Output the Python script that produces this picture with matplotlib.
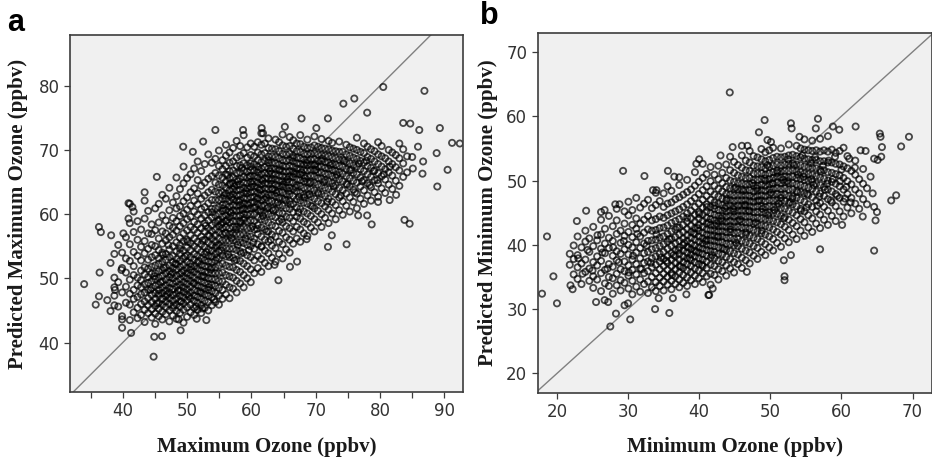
import matplotlib
matplotlib.use("Agg")
import matplotlib.pyplot as plt
from matplotlib.ticker import MultipleLocator

# ---- panel a : observed vs predicted maximum ozone (ppbv) ----
# dense part of the cloud, read strip by strip: (observed, [predicted, ...])
cloud_a = [
    (38.1, [44.9, 52.4]),
    (38.7, [47.3, 50.1, 53.8]),
    (39.3, [45.6, 49.4, 55.2]),
    (39.9, [44.1, 47.8, 51.6, 54.0]),
    (40.5, [46.2, 48.7, 50.9, 53.1, 56.4]),
    (41.1, [43.5, 45.9, 47.6, 49.8, 52.7, 55.3, 58.6]),
    (41.7, [44.7, 46.8, 48.2, 50.5, 51.9, 54.1, 57.2, 60.4]),
    (42.3, [43.8, 45.4, 47.1, 48.9, 50.1, 53.5, 56.0, 58.9]),
    (42.85, [44.3, 46.0, 47.5, 48.6, 49.7, 51.2, 52.8, 54.9, 57.6]),
    (43.4, [43.2, 45.1, 46.4, 47.8, 49.1, 50.6, 51.7, 53.9, 55.8, 59.3, 62.1]),
    (43.95, [44.6, 45.8, 46.9, 48.2, 49.3, 50.2, 51.5, 52.9, 54.6, 57.0, 60.5]),
    (44.5, [43.9, 45.2, 46.3, 47.4, 48.5, 49.6, 50.7, 51.8, 53.3, 55.2, 56.9, 58.4]),
    (45.05, [42.9, 44.5, 45.7, 46.8, 47.7, 48.8, 49.9, 50.8, 52.0, 53.6, 55.0, 57.5, 60.9]),
    (45.6, [44.1, 45.3, 46.2, 47.3, 48.2, 49.0, 50.1, 51.1, 52.3, 53.1, 54.4, 56.2, 58.7, 61.6]),
    (46.15, [43.6, 44.8, 45.9, 46.8, 47.7, 48.6, 49.5, 50.4, 51.3, 52.6, 54.0, 55.4, 57.3, 59.8, 63.0]),
    (46.7, [44.4, 45.5, 46.4, 47.2, 48.1, 48.9, 49.8, 50.8, 51.7, 52.9, 53.8, 55.9, 57.0, 59.0, 62.4]),
    (47.25, [43.3, 45.0, 46.0, 46.9, 47.8, 48.5, 49.3, 50.2, 51.1, 52.0, 53.3, 54.5, 56.4, 58.2, 60.6, 64.1]),
    (47.8, [44.2, 45.4, 46.5, 47.4, 48.3, 49.2, 50.0, 50.9, 51.6, 52.5, 53.5, 55.0, 56.8, 57.9, 59.4, 61.8]),
    (48.35, [43.7, 44.9, 45.9, 46.9, 47.6, 48.7, 49.5, 50.4, 51.4, 52.2, 53.0, 54.2, 55.6, 57.4, 58.9, 60.9, 62.8, 65.7]),
    (48.9, [44.6, 45.6, 46.4, 47.3, 48.1, 49.0, 49.9, 50.7, 51.8, 52.7, 53.9, 55.2, 56.3, 58.1, 59.7, 61.2, 63.9]),
    (49.45, [43.1, 45.1, 46.1, 47.0, 47.9, 48.6, 49.4, 50.3, 51.2, 52.1, 53.1, 54.3, 55.8, 57.0, 58.6, 60.1, 62.0, 64.8, 67.4]),
    (50.0, [44.0, 45.5, 46.6, 47.5, 48.3, 49.1, 50.0, 50.8, 51.6, 52.6, 53.6, 54.8, 56.0, 57.5, 59.2, 60.7, 62.6, 65.6]),
    (50.55, [44.7, 45.9, 46.9, 47.8, 48.7, 49.6, 50.5, 51.3, 52.3, 53.3, 54.4, 55.5, 56.7, 58.0, 59.6, 61.3, 63.4, 66.2]),
    (51.1, [44.3, 45.4, 46.5, 47.3, 48.2, 49.2, 50.1, 51.0, 51.9, 52.9, 53.8, 55.0, 56.2, 57.6, 58.8, 60.4, 62.1, 64.0, 67.1]),
    (51.65, [45.1, 46.2, 47.1, 48.0, 48.9, 49.7, 50.6, 51.5, 52.5, 53.5, 54.6, 55.7, 57.1, 58.4, 59.9, 61.5, 63.2, 65.3, 68.2]),
    (52.2, [44.6, 45.8, 46.8, 47.7, 48.6, 49.5, 50.3, 51.2, 52.1, 53.1, 54.1, 55.3, 56.5, 57.8, 59.3, 60.8, 62.4, 64.4, 66.7]),
    (52.75, [45.4, 46.5, 47.5, 48.4, 49.3, 50.2, 51.0, 51.9, 52.8, 53.8, 54.9, 56.0, 57.3, 58.6, 59.8, 61.1, 62.9, 64.9, 67.8]),
    (53.3, [45.0, 46.3, 47.3, 48.2, 49.1, 50.0, 50.9, 51.8, 52.6, 53.5, 54.5, 55.6, 56.7, 57.8, 59.0, 60.3, 61.7, 63.4, 65.5, 69.3]),
    (53.85, [45.8, 47.0, 48.0, 49.0, 49.9, 50.8, 51.7, 52.5, 53.4, 54.3, 55.2, 56.2, 57.3, 58.3, 59.5, 60.8, 62.2, 63.8, 65.9, 68.0]),
    (54.4, [46.3, 47.7, 48.8, 49.8, 50.8, 51.7, 52.8, 53.8, 54.8, 55.7, 56.7, 57.6, 58.7, 59.8, 60.9, 62.2, 63.5, 64.9, 66.4, 68.6]),
    (54.95, [45.9, 47.3, 48.5, 49.6, 50.8, 52.0, 53.1, 54.2, 55.2, 56.2, 57.2, 58.1, 59.1, 60.0, 61.1, 62.2, 63.3, 64.6, 66.0, 67.5, 69.9]),
    (55.5, [46.8, 48.2, 49.5, 50.9, 52.3, 53.6, 54.8, 55.9, 56.9, 57.8, 58.7, 59.6, 60.5, 61.4, 62.4, 63.4, 64.5, 65.7, 67.0, 68.4]),
    (56.05, [47.5, 49.0, 50.5, 52.0, 53.4, 54.7, 55.9, 57.0, 58.0, 58.9, 59.8, 60.6, 61.5, 62.4, 63.2, 64.1, 65.1, 66.2, 67.5, 69.1, 70.8]),
    (56.6, [46.9, 48.6, 50.3, 51.8, 53.3, 54.6, 55.8, 56.9, 57.8, 58.7, 59.5, 60.4, 61.2, 62.0, 62.9, 63.7, 64.6, 65.6, 66.7, 68.0, 69.6]),
    (57.15, [48.4, 50.1, 51.7, 53.2, 54.6, 55.9, 57.0, 58.0, 58.9, 59.8, 60.6, 61.4, 62.3, 63.1, 63.9, 64.8, 65.7, 66.8, 68.2, 70.3]),
    (57.7, [47.8, 49.6, 51.3, 52.9, 54.4, 55.7, 56.9, 58.0, 58.9, 59.7, 60.5, 61.3, 62.1, 62.9, 63.7, 64.5, 65.4, 66.4, 67.5, 68.8, 71.4]),
    (58.25, [49.2, 51.0, 52.7, 54.2, 55.6, 56.8, 57.9, 58.9, 59.8, 60.6, 61.4, 62.2, 63.0, 63.8, 64.6, 65.5, 66.5, 67.6, 69.1, 70.6]),
    (58.8, [48.6, 50.5, 52.3, 54.0, 55.5, 56.8, 58.0, 59.1, 60.0, 60.9, 61.7, 62.5, 63.3, 64.1, 64.9, 65.8, 66.8, 67.9, 69.5, 72.3]),
    (59.35, [50.0, 51.9, 53.6, 55.2, 56.6, 57.8, 58.9, 59.9, 60.8, 61.6, 62.4, 63.2, 64.0, 64.8, 65.7, 66.6, 67.6, 68.8, 70.4]),
    (59.9, [49.4, 51.4, 53.3, 55.0, 56.5, 57.8, 59.0, 60.0, 60.9, 61.8, 62.6, 63.4, 64.2, 65.0, 65.9, 66.8, 67.9, 69.2, 71.0]),
    (60.45, [50.8, 52.8, 54.6, 56.2, 57.6, 58.9, 60.0, 61.0, 61.9, 62.7, 63.5, 64.3, 65.1, 65.9, 66.8, 67.8, 69.0, 70.5]),
    (61.0, [51.6, 53.5, 55.3, 56.9, 58.3, 59.5, 60.6, 61.6, 62.5, 63.3, 64.1, 64.9, 65.7, 66.5, 67.4, 68.4, 69.6, 71.2]),
    (61.55, [51.0, 53.0, 54.9, 56.5, 57.9, 59.2, 60.3, 61.3, 62.2, 63.0, 63.8, 64.6, 65.4, 66.2, 67.1, 68.1, 69.3, 70.8, 72.6]),
    (62.1, [52.4, 54.3, 56.0, 57.6, 59.0, 60.2, 61.3, 62.3, 63.2, 64.0, 64.8, 65.6, 66.4, 67.3, 68.3, 69.5, 71.0]),
    (62.65, [51.9, 53.9, 55.7, 57.3, 58.7, 60.0, 61.1, 62.1, 63.0, 63.9, 64.7, 65.5, 66.3, 67.1, 68.0, 69.0, 70.3, 71.8]),
    (63.2, [53.2, 55.1, 56.8, 58.3, 59.7, 60.9, 62.0, 63.0, 63.9, 64.7, 65.5, 66.3, 67.1, 68.0, 69.0, 70.2]),
    (63.75, [52.6, 54.7, 56.5, 58.1, 59.5, 60.7, 61.8, 62.8, 63.7, 64.6, 65.4, 66.2, 67.0, 67.9, 68.9, 70.1, 71.6]),
    (64.3, [53.8, 55.7, 57.4, 58.9, 60.2, 61.4, 62.5, 63.5, 64.4, 65.2, 66.0, 66.8, 67.7, 68.7, 69.8, 71.2]),
    (64.85, [53.1, 55.3, 57.1, 58.7, 60.1, 61.3, 62.4, 63.4, 64.3, 65.1, 65.9, 66.7, 67.5, 68.4, 69.4, 70.7, 72.4]),
    (65.4, [54.5, 56.4, 58.1, 59.6, 60.9, 62.1, 63.1, 64.1, 65.0, 65.8, 66.6, 67.4, 68.3, 69.3, 70.5]),
    (65.95, [54.0, 56.0, 57.8, 59.4, 60.8, 62.0, 63.1, 64.1, 65.0, 65.9, 66.7, 67.5, 68.4, 69.4, 70.6, 72.0]),
    (66.5, [55.4, 57.3, 58.9, 60.3, 61.6, 62.8, 63.9, 64.9, 65.8, 66.6, 67.4, 68.2, 69.1, 70.2, 71.5]),
    (67.05, [56.2, 58.0, 59.6, 61.0, 62.3, 63.5, 64.5, 65.4, 66.3, 67.1, 67.9, 68.8, 69.8, 71.0]),
    (67.6, [55.7, 57.6, 59.3, 60.8, 62.1, 63.3, 64.4, 65.3, 66.2, 67.0, 67.8, 68.7, 69.7, 70.9, 72.3]),
    (68.15, [57.0, 58.8, 60.4, 61.8, 63.0, 64.1, 65.1, 66.0, 66.9, 67.7, 68.5, 69.4, 70.5]),
    (68.7, [56.6, 58.5, 60.1, 61.6, 62.9, 64.0, 65.0, 65.9, 66.8, 67.6, 68.4, 69.3, 70.3, 71.6]),
    (69.25, [57.9, 59.7, 61.3, 62.7, 63.9, 65.0, 66.0, 66.9, 67.7, 68.5, 69.4, 70.4]),
    (69.8, [57.3, 59.2, 60.9, 62.4, 63.7, 64.9, 65.9, 66.8, 67.6, 68.5, 69.5, 70.7, 72.1]),
    (70.35, [58.7, 60.5, 62.0, 63.4, 64.6, 65.6, 66.5, 67.4, 68.3, 69.3, 70.5]),
    (70.9, [58.0, 60.0, 61.7, 63.1, 64.4, 65.5, 66.5, 67.4, 68.3, 69.2, 70.3, 71.7]),
    (71.45, [59.4, 61.2, 62.8, 64.1, 65.3, 66.3, 67.2, 68.1, 69.1, 70.2]),
    (72.0, [58.6, 60.7, 62.4, 63.9, 65.1, 66.2, 67.1, 68.0, 69.0, 70.1, 71.4]),
    (72.55, [60.1, 61.9, 63.5, 64.8, 65.9, 66.9, 67.8, 68.8, 69.9, 71.1]),
    (73.1, [59.2, 61.4, 63.1, 64.5, 65.7, 66.7, 67.7, 68.7, 69.8]),
    (73.65, [60.6, 62.6, 64.1, 65.4, 66.5, 67.5, 68.5, 69.7, 71.3]),
    (74.2, [59.9, 62.0, 63.7, 65.1, 66.3, 67.4, 68.5, 69.7]),
    (74.75, [61.3, 63.2, 64.7, 65.9, 67.0, 68.1, 69.3, 70.8]),
    (75.3, [60.4, 62.6, 64.3, 65.6, 66.8, 67.9, 69.1, 70.4]),
    (75.85, [61.9, 63.8, 65.2, 66.4, 67.6, 68.8, 70.2]),
    (76.4, [60.9, 63.2, 64.9, 66.2, 67.4, 68.6, 70.0, 71.9]),
    (76.95, [62.4, 64.3, 65.7, 67.0, 68.3, 69.7]),
    (77.5, [61.6, 63.7, 65.3, 66.7, 68.0, 69.5, 71.0]),
    (78.05, [62.9, 64.8, 66.2, 67.5, 68.9, 70.5]),
    (78.6, [62.1, 64.2, 65.8, 67.2, 68.6, 70.1]),
    (79.15, [63.4, 65.3, 66.8, 68.2, 69.8]),
    (79.7, [62.7, 64.8, 66.4, 67.8, 69.3, 71.2]),
    (80.25, [64.0, 65.9, 67.4, 69.0, 70.6]),
    (80.8, [63.3, 65.4, 67.0, 68.7]),
    (81.35, [64.6, 66.5, 68.2, 70.0]),
    (81.9, [63.9, 66.0, 67.8, 69.6]),
    (82.45, [65.2, 67.3, 69.2]),
    (83.0, [64.4, 66.8, 68.7, 71.0]),
    (83.6, [65.8, 67.9, 70.1]),
    (84.2, [66.5, 69.0]),
]
# scattered points around the cloud (observed, predicted)
loose_a = [
    (34.0, 49.1), (35.8, 45.9), (36.3, 47.2), (36.4, 50.9), (36.3, 58.0), (36.6, 57.2),
    (37.6, 46.6), (38.2, 56.7), (38.7, 48.6), (38.8, 48.2), (38.7, 45.8), (39.8, 51.3),
    (40.1, 57.0), (39.9, 43.6), (39.9, 42.3), (40.9, 61.7), (41.1, 61.6), (40.9, 59.3),
    (41.5, 61.1), (41.3, 41.5), (43.4, 63.4), (45.3, 65.8), (44.8, 37.8), (44.9, 40.9),
    (46.1, 41.0), (49.0, 41.9), (48.7, 43.6), (49.4, 70.5), (50.9, 69.7), (52.5, 71.3),
    (54.4, 73.1), (58.7, 73.1), (61.6, 73.4), (61.8, 72.6), (65.2, 73.6), (67.8, 74.9),
    (70.1, 73.4), (71.9, 74.9), (74.3, 77.2), (76.0, 78.0), (78.0, 75.8), (80.5, 79.8),
    (86.9, 79.2), (89.3, 73.4), (91.2, 71.1), (92.4, 71.0), (88.8, 69.5), (88.9, 64.3),
    (90.5, 66.9), (86.6, 66.3), (86.7, 68.2), (85.9, 70.5), (83.6, 74.2), (84.7, 74.1),
    (86.1, 73.1), (85.0, 68.9), (85.1, 67.1), (83.8, 59.1), (84.6, 58.5), (82.5, 63.0),
    (81.5, 62.2), (79.7, 61.9), (78.7, 58.4), (78.0, 59.8), (76.6, 59.8), (74.8, 55.3),
    (71.9, 54.9), (72.5, 56.7), (68.6, 56.1), (66.0, 51.8), (67.1, 52.6), (64.2, 49.7),
    (63.6, 52.1), (51.5, 43.7), (53.0, 43.5), (52.4, 45.3),
]
# extra points inside the dark parts of the cloud
fill_a = [
    (45.3, 46.1), (45.9, 49.4), (46.4, 51.6), (46.9, 47.5), (47.5, 50.6), (47.9, 45.8),
    (48.2, 52.3), (48.6, 48.1), (49.1, 46.4), (49.2, 50.9), (49.7, 53.4), (50.3, 47.2),
    (50.6, 51.8), (51.0, 49.3), (51.4, 45.6), (51.8, 52.7), (52.1, 47.9), (52.5, 50.4),
    (53.0, 54.1), (53.4, 48.6), (53.7, 51.4), (54.2, 46.7), (54.6, 53.2), (46.2, 53.7),
    (47.1, 55.2), (45.6, 47.6), (48.9, 54.6), (50.1, 55.7), (44.9, 50.3), (44.3, 48.2),
    (55.3, 58.4), (55.8, 62.9), (56.3, 66.1), (56.8, 60.2), (57.3, 64.3), (57.6, 57.6),
    (58.1, 61.9), (58.5, 67.2), (58.9, 59.4), (59.2, 63.6), (59.7, 65.9), (60.2, 58.1),
    (60.6, 61.1), (61.1, 66.9), (61.3, 63.8), (61.8, 59.7), (62.3, 62.6), (62.7, 68.4),
    (63.1, 65.2), (63.4, 60.6), (63.9, 63.3), (64.4, 67.0), (64.7, 59.2), (65.2, 62.3),
    (65.6, 65.4), (66.1, 61.5), (66.4, 68.8), (66.9, 64.2), (67.3, 60.3), (67.8, 66.5),
    (68.2, 62.6), (68.6, 68.0), (69.1, 64.8), (69.5, 61.2), (70.0, 66.9), (70.4, 63.2),
    (71.0, 68.6), (71.3, 65.0), (71.8, 61.9), (72.3, 67.6), (72.8, 64.3), (73.3, 66.1),
    (73.9, 62.9), (74.4, 68.3), (74.9, 64.6), (75.5, 66.9), (76.1, 63.4), (76.7, 67.9),
    (77.2, 65.1), (77.9, 68.3), (78.4, 64.5), (79.0, 66.7), (79.6, 65.3), (80.6, 66.2),
    (81.5, 67.4), (52.4, 55.9), (52.9, 58.2), (53.5, 56.6), (53.9, 60.3), (54.6, 55.1),
    (54.8, 58.9), (55.4, 54.3), (55.9, 57.1), (56.4, 53.7), (56.9, 56.3), (57.4, 52.8),
    (57.9, 55.2), (58.4, 53.9), (59.1, 56.2), (59.6, 54.4), (60.3, 55.6), (60.9, 57.7),
    (61.6, 55.0), (62.4, 57.3), (63.0, 56.0),
    (56.2, 59.1), (57.0, 62.6), (57.9, 65.1), (58.6, 60.7), (59.5, 61.4), (60.1, 64.7),
    (60.9, 62.3), (61.7, 65.2), (62.5, 60.9), (63.3, 63.9), (64.1, 61.8), (64.9, 64.6),
    (65.8, 63.6), (66.6, 66.3), (67.4, 62.7), (68.3, 65.6), (69.0, 63.1), (69.9, 67.8),
    (55.6, 60.9), (56.7, 64.8), (58.3, 58.6), (59.9, 67.4), (61.4, 60.6), (62.9, 66.7),
]

# ---- panel b : observed vs predicted minimum ozone (ppbv) ----
cloud_b = [
    (21.8, [36.9, 38.6]),
    (22.35, [35.4, 37.8, 39.9]),
    (22.9, [34.7, 36.5, 38.4, 41.3]),
    (23.45, [33.9, 37.1, 39.6]),
    (24.0, [35.8, 37.7, 40.5, 42.2]),
    (24.55, [34.4, 36.3, 38.9, 41.0]),
    (25.1, [33.3, 35.1, 37.3, 39.8, 42.8]),
    (25.65, [34.6, 36.8, 38.2, 40.7]),
    (26.2, [32.8, 35.6, 37.5, 39.4, 41.6, 43.9]),
    (26.75, [34.0, 36.1, 38.7, 40.2, 42.5]),
    (27.3, [33.6, 35.0, 37.0, 39.5, 41.1, 44.5]),
    (27.85, [32.4, 34.8, 36.6, 38.3, 40.6, 42.9]),
    (28.4, [33.7, 35.5, 37.6, 39.0, 41.7, 43.8, 45.6]),
    (28.95, [32.9, 34.5, 36.2, 38.6, 40.3, 42.2]),
    (29.5, [34.1, 35.9, 37.4, 39.3, 41.4, 43.3, 45.2]),
    (30.05, [33.2, 35.2, 36.8, 38.5, 40.0, 42.0, 44.6, 46.7]),
    (30.6, [32.3, 34.4, 36.1, 37.7, 39.6, 41.2, 43.1, 45.4]),
    (31.15, [33.5, 35.4, 37.0, 38.8, 40.4, 42.5, 44.1, 47.3]),
    (31.7, [32.7, 34.6, 36.3, 37.9, 39.5, 41.3, 43.3, 45.8]),
    (32.25, [33.9, 35.6, 37.2, 38.7, 40.2, 41.9, 43.9, 46.4]),
    (32.8, [32.5, 34.3, 35.9, 37.4, 38.9, 40.6, 42.4, 44.5, 47.0]),
    (33.35, [33.4, 35.0, 36.5, 37.9, 39.3, 40.7, 42.2, 43.8, 45.7]),
    (33.9, [32.8, 34.2, 35.6, 36.9, 38.2, 39.5, 40.8, 42.3, 44.0, 46.2, 48.1]),
    (34.45, [33.6, 34.9, 36.2, 37.4, 38.6, 39.8, 41.1, 42.6, 44.4, 46.8]),
    (35.0, [32.9, 34.3, 35.5, 36.7, 37.8, 38.9, 40.1, 41.3, 42.7, 44.2, 45.9, 48.0]),
    (35.55, [33.8, 35.0, 36.1, 37.2, 38.3, 39.4, 40.5, 41.7, 43.0, 44.6, 46.4, 49.1]),
    (36.1, [33.1, 34.4, 35.6, 36.7, 37.7, 38.7, 39.8, 40.9, 42.1, 43.4, 44.9, 46.6, 48.4]),
    (36.65, [33.9, 35.1, 36.2, 37.2, 38.2, 39.2, 40.2, 41.2, 42.4, 43.7, 45.2, 47.1]),
    (37.2, [33.4, 34.6, 35.7, 36.7, 37.7, 38.6, 39.6, 40.6, 41.6, 42.7, 44.0, 45.5, 47.4, 49.3]),
    (37.75, [34.1, 35.3, 36.4, 37.3, 38.2, 39.1, 40.0, 41.0, 42.0, 43.1, 44.4, 45.9, 47.8]),
    (38.3, [33.6, 34.9, 36.0, 37.0, 37.9, 38.8, 39.7, 40.6, 41.5, 42.5, 43.6, 44.9, 46.3, 48.2, 50.1]),
    (38.85, [34.5, 35.7, 36.7, 37.6, 38.5, 39.3, 40.2, 41.1, 42.0, 43.0, 44.1, 45.3, 46.8, 48.6]),
    (39.4, [33.9, 35.2, 36.3, 37.3, 38.2, 39.1, 39.9, 40.8, 41.7, 42.6, 43.6, 44.7, 45.9, 47.3, 49.2, 51.3]),
    (39.95, [34.8, 36.0, 37.0, 37.9, 38.8, 39.6, 40.5, 41.3, 42.2, 43.1, 44.1, 45.1, 46.4, 47.9, 49.8]),
    (40.5, [34.2, 35.6, 36.7, 37.7, 38.6, 39.4, 40.2, 41.0, 41.9, 42.8, 43.7, 44.7, 45.8, 47.0, 48.5, 50.4, 52.6]),
    (41.05, [35.1, 36.4, 37.4, 38.3, 39.2, 40.0, 40.8, 41.6, 42.4, 43.3, 44.2, 45.2, 46.3, 47.6, 49.1, 51.0]),
    (41.6, [33.8, 35.5, 36.9, 38.0, 39.0, 39.9, 40.7, 41.5, 42.3, 43.1, 44.0, 44.9, 45.9, 47.0, 48.3, 49.9, 52.1]),
    (42.15, [35.3, 36.7, 37.9, 38.9, 39.8, 40.6, 41.4, 42.2, 43.0, 43.8, 44.7, 45.6, 46.6, 47.8, 49.2, 50.9]),
    (42.7, [34.6, 36.2, 37.5, 38.6, 39.6, 40.5, 41.3, 42.1, 42.9, 43.7, 44.5, 45.4, 46.4, 47.5, 48.7, 50.2, 52.3]),
    (43.25, [35.9, 37.3, 38.5, 39.5, 40.4, 41.3, 42.1, 42.9, 43.7, 44.5, 45.3, 46.2, 47.2, 48.3, 49.6, 51.2]),
    (43.8, [35.2, 36.8, 38.1, 39.2, 40.2, 41.1, 42.0, 42.8, 43.6, 44.4, 45.2, 46.0, 46.9, 47.9, 49.0, 50.4, 52.5]),
    (44.35, [36.3, 37.8, 39.0, 40.1, 41.1, 42.0, 42.9, 43.7, 44.5, 45.3, 46.1, 46.9, 47.8, 48.8, 50.0, 51.6, 53.7]),
    (44.9, [35.7, 37.3, 38.7, 39.9, 40.9, 41.9, 42.8, 43.6, 44.4, 45.2, 46.0, 46.8, 47.7, 48.7, 49.8, 51.2, 52.9]),
    (45.45, [37.0, 38.5, 39.8, 40.9, 41.9, 42.8, 43.7, 44.5, 45.3, 46.1, 46.9, 47.7, 48.6, 49.6, 50.8, 52.4]),
    (46.0, [36.4, 38.0, 39.4, 40.6, 41.7, 42.7, 43.6, 44.5, 45.3, 46.1, 46.9, 47.7, 48.6, 49.5, 50.6, 52.0, 53.9]),
    (46.55, [37.6, 39.1, 40.4, 41.6, 42.6, 43.5, 44.4, 45.3, 46.1, 46.9, 47.7, 48.5, 49.4, 50.4, 51.6, 53.1]),
    (47.1, [37.1, 38.8, 40.2, 41.4, 42.5, 43.5, 44.4, 45.2, 46.0, 46.8, 47.6, 48.5, 49.4, 50.4, 51.5, 52.8, 54.6]),
    (47.65, [38.3, 39.8, 41.1, 42.3, 43.3, 44.2, 45.1, 45.9, 46.7, 47.5, 48.3, 49.2, 50.1, 51.1, 52.3, 53.8]),
    (48.2, [37.8, 39.5, 40.9, 42.1, 43.2, 44.2, 45.1, 46.0, 46.8, 47.6, 48.4, 49.2, 50.1, 51.1, 52.2, 53.6]),
    (48.75, [38.9, 40.5, 41.8, 43.0, 44.1, 45.1, 46.0, 46.9, 47.7, 48.5, 49.3, 50.2, 51.1, 52.1, 53.3, 54.9]),
    (49.3, [38.4, 40.1, 41.6, 42.9, 44.0, 45.0, 45.9, 46.8, 47.6, 48.4, 49.2, 50.0, 50.9, 51.9, 53.0, 54.4]),
    (49.85, [39.6, 41.3, 42.7, 43.9, 45.0, 46.0, 46.9, 47.8, 48.6, 49.4, 50.2, 51.1, 52.1, 53.2, 54.7]),
    (50.4, [39.1, 40.9, 42.4, 43.7, 44.9, 45.9, 46.9, 47.8, 48.7, 49.5, 50.4, 51.3, 52.3, 53.5, 55.1]),
    (50.95, [40.3, 42.0, 43.5, 44.8, 45.9, 46.9, 47.9, 48.8, 49.7, 50.6, 51.5, 52.5, 53.7]),
    (51.5, [39.7, 41.6, 43.2, 44.5, 45.7, 46.8, 47.8, 48.7, 49.6, 50.5, 51.4, 52.4, 53.6, 55.0]),
    (52.05, [41.0, 42.8, 44.3, 45.6, 46.8, 47.8, 48.8, 49.7, 50.6, 51.5, 52.5, 53.7]),
    (52.6, [40.4, 42.3, 43.9, 45.3, 46.5, 47.6, 48.6, 49.6, 50.5, 51.5, 52.6, 53.9, 55.6]),
    (53.15, [41.6, 43.4, 45.0, 46.3, 47.5, 48.6, 49.6, 50.6, 51.6, 52.7, 54.0]),
    (53.7, [40.9, 42.9, 44.6, 46.0, 47.3, 48.4, 49.4, 50.4, 51.4, 52.5, 53.8, 55.4]),
    (54.25, [42.2, 44.0, 45.6, 47.0, 48.2, 49.3, 50.3, 51.3, 52.4, 53.6, 55.0]),
    (54.8, [41.4, 43.5, 45.2, 46.7, 48.0, 49.1, 50.1, 51.1, 52.2, 53.4, 54.8, 56.4]),
    (55.35, [42.7, 44.6, 46.3, 47.7, 48.9, 50.0, 51.0, 52.1, 53.3, 54.7]),
    (55.9, [42.0, 44.1, 45.9, 47.4, 48.7, 49.8, 50.9, 52.0, 53.2, 54.6, 56.2]),
    (56.45, [43.3, 45.2, 46.9, 48.3, 49.5, 50.7, 51.9, 53.2, 54.7]),
    (57.0, [42.6, 44.7, 46.5, 48.0, 49.3, 50.5, 51.7, 53.0, 54.5, 56.5]),
    (57.55, [43.9, 45.9, 47.6, 49.0, 50.3, 51.6, 53.0, 54.7]),
    (58.1, [43.1, 45.3, 47.1, 48.6, 50.0, 51.3, 52.8, 54.5, 56.9]),
    (58.65, [44.5, 46.6, 48.3, 49.8, 51.2, 52.8, 54.8]),
    (59.2, [43.7, 46.0, 47.9, 49.5, 51.0, 52.6, 54.3]),
    (59.75, [45.2, 47.3, 49.1, 50.8, 52.5, 54.6]),
    (60.3, [44.4, 46.7, 48.6, 50.4, 52.2, 55.1]),
    (60.85, [45.8, 47.9, 49.9, 51.9, 53.8]),
    (61.4, [44.9, 47.3, 49.4, 51.5]),
    (61.95, [46.4, 48.6, 50.9, 53.1]),
    (62.5, [45.6, 48.0, 50.2]),
    (63.05, [47.1, 49.5, 51.8]),
    (63.6, [46.3, 48.8]),
]
loose_b = [
    (17.9, 32.4), (18.6, 41.3), (19.5, 35.1), (20.0, 30.9), (21.9, 33.7), (22.2, 33.1),
    (22.8, 43.7), (24.1, 45.3), (25.5, 31.1), (26.2, 45.1), (26.7, 45.4), (26.7, 31.4),
    (27.2, 31.1), (27.5, 27.3), (28.3, 29.3), (28.2, 46.3), (28.8, 46.3), (29.3, 51.5),
    (29.5, 30.6), (30.0, 30.9), (30.3, 28.4), (32.3, 50.7), (33.5, 48.5), (34.0, 48.5),
    (33.8, 30.0), (34.3, 31.7), (35.6, 51.5), (35.8, 29.4), (36.3, 31.7), (36.5, 50.6),
    (37.2, 50.5), (38.2, 32.3), (39.6, 52.6), (40.0, 53.3), (41.3, 32.2), (43.0, 53.9),
    (44.3, 63.7), (44.7, 55.2), (46.0, 55.4), (46.8, 55.4), (48.4, 57.5), (49.2, 59.4),
    (49.6, 56.3), (50.1, 56.0), (52.9, 58.9), (53.0, 58.1), (54.1, 56.8), (56.7, 59.6),
    (56.4, 58.1), (58.8, 58.4), (59.7, 57.9), (62.0, 58.4), (62.7, 54.7), (63.4, 54.6),
    (64.1, 50.6), (64.4, 48.0), (64.6, 45.9), (65.0, 45.1), (65.4, 57.3), (65.5, 56.8),
    (65.7, 55.2), (65.6, 53.7), (65.1, 53.2), (64.6, 53.4), (64.8, 43.8), (64.6, 39.1),
    (67.0, 46.9), (67.7, 47.7), (68.4, 55.3), (69.5, 56.8), (63.0, 44.4), (60.1, 43.1),
    (57.0, 39.3), (52.9, 38.4), (51.9, 37.6), (52.0, 35.1), (52.0, 34.5), (46.7, 35.8),
    (41.4, 32.2), (41.9, 33.2),
]
fill_b = [
    (35.4, 37.5), (35.8, 40.9), (36.4, 38.4), (36.9, 42.7), (37.4, 36.6), (37.9, 40.3),
    (38.3, 44.2), (38.7, 37.9), (39.2, 41.8), (39.6, 38.9), (40.0, 44.8), (40.4, 36.9),
    (40.9, 40.6), (41.3, 43.5), (41.8, 38.4), (42.2, 46.1), (42.6, 41.2), (43.1, 44.1),
    (43.5, 39.3), (43.9, 47.2), (44.4, 42.4), (44.8, 45.6), (45.2, 40.3), (45.7, 43.9),
    (46.2, 48.4), (46.6, 41.9), (47.0, 45.3), (47.5, 49.6), (47.9, 43.5), (48.4, 46.9),
    (48.8, 42.2), (49.2, 50.3), (49.7, 44.6), (50.1, 48.1), (50.6, 45.4), (51.0, 51.2),
    (51.5, 47.3), (51.9, 44.1), (52.4, 49.9), (52.8, 46.6), (53.3, 52.4), (53.8, 48.2),
    (54.3, 45.3), (54.7, 50.6), (55.2, 47.9), (55.7, 52.7), (56.1, 49.3), (56.6, 46.1),
    (57.1, 51.4), (57.7, 48.6), (58.2, 53.1), (58.8, 50.2), (59.4, 47.6), (60.0, 51.7),
    (60.7, 49.0), (61.3, 46.6), (61.9, 52.0), (34.6, 38.0), (34.0, 41.6), (33.2, 37.2),
    (32.6, 39.9), (31.9, 36.2), (31.3, 41.7), (30.7, 38.3), (30.1, 35.7), (29.4, 40.6),
    (28.7, 37.3), (27.9, 39.6), (27.1, 36.3), (26.4, 38.8), (25.7, 41.5), (25.0, 36.0),
    (24.3, 39.2), (23.6, 35.5), (23.0, 37.9),
    (48.1, 48.8), (48.9, 45.6), (49.6, 52.4), (50.3, 49.6), (51.2, 46.4), (51.8, 50.1),
    (52.5, 53.3), (53.1, 47.2), (53.9, 50.9), (54.5, 53.9), (55.1, 45.8), (55.8, 50.2),
    (56.3, 53.6), (56.9, 47.5), (57.4, 52.3), (58.0, 49.5), (58.5, 46.9), (59.1, 53.7),
    (59.8, 49.9), (60.5, 47.2), (61.1, 53.4), (46.4, 46.2), (45.1, 48.9), (43.6, 45.7),
    (42.4, 43.3), (41.1, 45.9), (39.8, 42.6), (38.5, 39.6), (37.1, 39.2), (36.2, 35.3),
]


def unpack(cloud, *extra):
    xs, ys = [], []
    for x, col in cloud:
        for y in col:
            xs.append(x)
            ys.append(y)
    for pts in extra:
        for x, y in pts:
            xs.append(x)
            ys.append(y)
    return xs, ys


xa, ya = unpack(cloud_a, loose_a, fill_a)
xb, yb = unpack(cloud_b, loose_b, fill_b)

fig = plt.figure(figsize=(9.32, 4.59), dpi=100)
ax1 = fig.add_axes([0.0751, 0.146, 0.4217, 0.7778])
ax2 = fig.add_axes([0.577, 0.1444, 0.4227, 0.7831])

serif = dict(family="Liberation Serif", weight="bold", size=15, color="#1a1a1a")
ring = (0, 0, 0, 0.7)


def style(ax, xl, yl, xlabel, ylabel):
    ax.set_facecolor("#f0f0f0")
    ax.set_xlim(*xl)
    ax.set_ylim(*yl)
    for s in ax.spines.values():
        s.set_color("#3c3c3c")
        s.set_linewidth(1.2)
    ax.plot(xl, xl, color="#808080", lw=1.0, zorder=1)
    ax.tick_params(which="both", direction="out", length=4.5, width=0.9,
                   color="#3c3c3c", labelsize=12, labelcolor="#333333", pad=3)
    ax.set_xlabel(xlabel, fontdict=serif)
    ax.set_ylabel(ylabel, fontdict=serif)


style(ax1, (31.8, 92.9), (32.3, 87.9), "Maximum Ozone (ppbv)", "Predicted Maximum Ozone (ppbv)")
ax1.xaxis.set_major_locator(MultipleLocator(10))
ax1.xaxis.set_minor_locator(MultipleLocator(5))
ax1.yaxis.set_major_locator(MultipleLocator(10))
ax1.scatter(xa, ya, s=20, facecolors="none", edgecolors=[ring], linewidths=1.3, zorder=2)
ax1.xaxis.set_label_coords(0.5, -0.125)
ax1.yaxis.set_label_coords(-0.107, 0.5)

style(ax2, (17.3, 72.7), (17.0, 72.9), "Minimum Ozone (ppbv)", "Predicted Minimum Ozone (ppbv)")
ax2.xaxis.set_major_locator(MultipleLocator(10))
ax2.yaxis.set_major_locator(MultipleLocator(10))
ax2.scatter(xb, yb, s=20, facecolors="none", edgecolors=[ring], linewidths=1.3, zorder=2)
ax2.xaxis.set_label_coords(0.5, -0.122)
ax2.yaxis.set_label_coords(-0.100, 0.5)

fig.text(7 / 932, 1 - 31 / 459, "a", family="Liberation Sans", weight="bold", size=22, va="baseline")
fig.text(480 / 932, 1 - 24 / 459, "b", family="Liberation Sans", weight="bold", size=22, va="baseline")

fig.savefig("out.png", dpi=100)
